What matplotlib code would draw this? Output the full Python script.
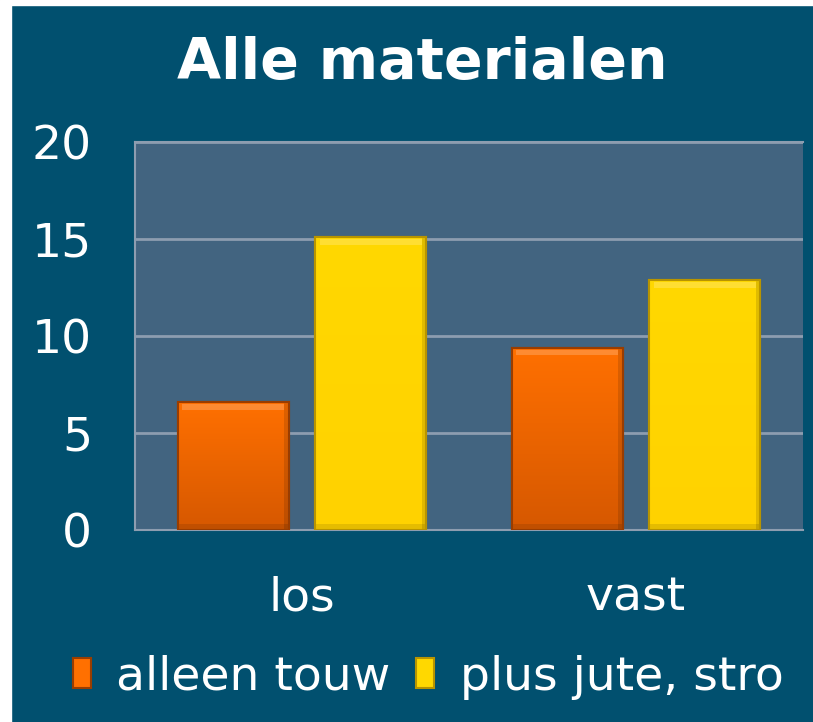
import matplotlib.pyplot as plt
import matplotlib.patches as mpatches
from matplotlib.colors import LinearSegmentedColormap
import numpy as np

# data
categories = ['los', 'vast']
alleen_touw = [6.6, 9.4]
plus_jute_stro = [15.1, 12.9]
series_names = ['alleen touw', 'plus jute, stro']

bg = '#01506f'
plot_bg = '#426480'
grid_col = '#8d9db0'

fig = plt.figure(figsize=(8.13, 7.22), dpi=100, facecolor=bg)
# small white strip left and top like the original
fig.patches.append(mpatches.Rectangle((0, 0), 11/813, 1, transform=fig.transFigure,
                                      color='white', zorder=-10))
fig.patches.append(mpatches.Rectangle((0, 717/722), 1, 5/722, transform=fig.transFigure,
                                      color='white', zorder=-10))

ax = fig.add_axes([135/813, 1 - 530/722, (803-135)/813, (530-142)/722])
ax.set_facecolor(plot_bg)

x = np.arange(len(categories))
w = 0.332
off = 0.206


def grad_bar(xs, vals, top, bottom, edge, label):
    bars = ax.bar(xs, vals, w, color=top, edgecolor=edge, linewidth=1.5,
                  label=label, zorder=3)
    cm = LinearSegmentedColormap.from_list('g', [bottom, top])
    grad = np.linspace(0, 1, 100).reshape(-1, 1)
    for b in bars:
        x0, y0 = b.get_x(), b.get_y()
        bw, bh = b.get_width(), b.get_height()
        im = ax.imshow(grad, cmap=cm, origin='lower', aspect='auto',
                       extent=(x0, x0 + bw, y0, y0 + bh), zorder=3.5)
        im.set_clip_path(b)
        # bevel: light strip on top, darker strips right and bottom
        ax.add_patch(mpatches.Rectangle((x0 + bw*0.04, y0 + bh - 0.4), bw*0.92, 0.3,
                                        color='white', alpha=0.2, lw=0, zorder=4))
        ax.add_patch(mpatches.Rectangle((x0 + bw*0.96, y0), bw*0.04, bh,
                                        color='black', alpha=0.12, lw=0, zorder=4))
        ax.add_patch(mpatches.Rectangle((x0, y0), bw, 0.3,
                                        color='black', alpha=0.1, lw=0, zorder=4))
        ax.add_patch(mpatches.Rectangle((x0, y0), bw, bh, fill=False,
                                        edgecolor=edge, lw=1.5, zorder=4.5))
    return bars


grad_bar(x - off, alleen_touw, '#ff7000', '#d65800', '#9a3d00', series_names[0])
grad_bar(x + off, plus_jute_stro, '#ffd800', '#ffd200', '#b89400', series_names[1])

ax.set_xlim(-0.5, 1.5)
ax.set_ylim(0, 20)
ax.set_yticks([0, 5, 10, 15, 20])
ax.set_xticks(x)
ax.set_xticklabels(categories)
ax.yaxis.grid(True, color=grid_col, linewidth=2, zorder=1)
ax.set_axisbelow(True)
ax.tick_params(axis='both', length=0, colors='white', labelsize=34)
ax.tick_params(axis='y', pad=31)
ax.tick_params(axis='x', pad=33)
for s in ['left', 'top', 'bottom']:
    ax.spines[s].set_color(grid_col)
    ax.spines[s].set_linewidth(1.5)
ax.spines['right'].set_visible(False)

fig.text(422/813, 1 - 64/722, 'Alle materialen', ha='center', va='center',
         color='white', fontsize=41, fontweight='bold')

leg = fig.legend(loc='center', bbox_to_anchor=(428/813, 1 - 677/722), ncol=2,
                 frameon=False, fontsize=34, labelcolor='white',
                 handlelength=0.38, handleheight=0.62, handletextpad=0.55,
                 columnspacing=0.53)

fig.savefig('out.png', dpi=100, facecolor=fig.get_facecolor())
